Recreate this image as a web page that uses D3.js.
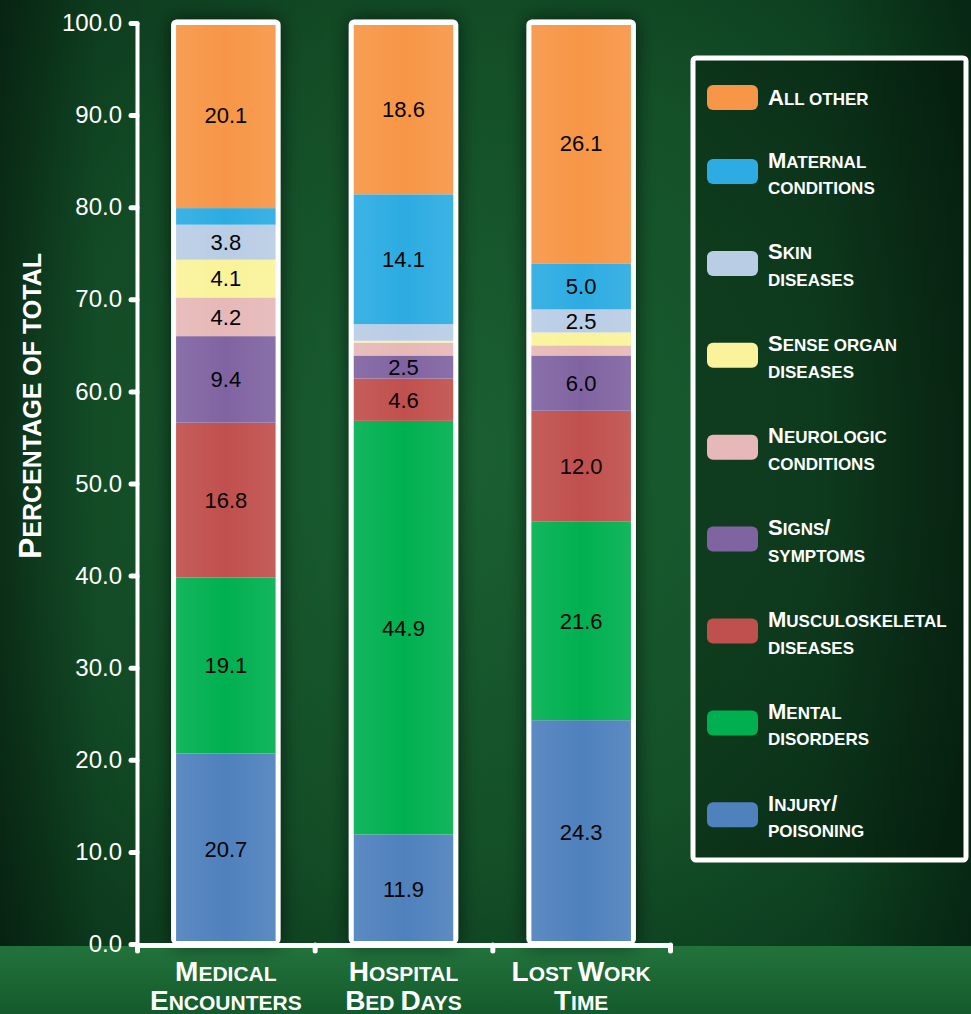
<!DOCTYPE html>
<html>
<head>
<meta charset="utf-8">
<script src="https://cdn.jsdelivr.net/npm/d3@7/dist/d3.min.js"></script>
<style>
  html, body { margin: 0; padding: 0; background: #07331a; }
  svg { display: block; }
  .sc { font-family: "Liberation Sans", Arial, sans-serif; font-weight: bold; fill: #fff; white-space: pre; }
</style>
</head>
<body>
<svg class="chart"></svg>
<script>
'use strict';

var WIDTH = 971;
var HEIGHT = 1014;

// categories and labels
var categories = ["Medical Encounters", "Hospital Bed Days", "Lost Work Time"];
var categoryLines = [["Medical", "Encounters"], ["Hospital", "Bed Days"], ["Lost Work", "Time"]];

// series values, bottom of stack to top
var injury = [20.7, 11.9, 24.3];
var mental = [19.1, 44.9, 21.6];
var musculoskeletal = [16.8, 4.6, 12.0];
var signs = [9.4, 2.5, 6.0];
var neurologic = [4.2, 1.4, 1.1];
var senseOrgan = [4.1, 0.2, 1.4];
var skin = [3.8, 1.8, 2.5];
var maternal = [1.8, 14.1, 5.0];
var allOther = [20.1, 18.6, 26.1];

var seriesKeys = ["injury", "mental", "musculoskeletal", "signs", "neurologic", "senseOrgan", "skin", "maternal", "allOther"];
var seriesValues = [injury, mental, musculoskeletal, signs, neurologic, senseOrgan, skin, maternal, allOther];
var seriesLabels = [
    ["Injury/", "poisoning"],
    ["Mental", "disorders"],
    ["Musculoskeletal", "diseases"],
    ["Signs/", "symptoms"],
    ["Neurologic", "conditions"],
    ["Sense organ", "diseases"],
    ["Skin", "diseases"],
    ["Maternal", "conditions"],
    ["All other"]
];
var seriesColors = ["#4f81bd", "#00b050", "#c0504d", "#8064a2", "#e6b9b8", "#faf39b", "#b9cde5", "#2cace2", "#f79646"];

var yTicks = [0, 10, 20, 30, 40, 50, 60, 70, 80, 90, 100];

var chart = d3.select(".chart").attr("width", WIDTH).attr("height", HEIGHT);
var defs = chart.append("defs");

renderBackground(chart, defs);

// scales
var yScale = d3.scaleLinear().domain([0, 100]).range([944, 23]);
var xScale = d3.scaleBand().domain(categories).range([137, 670]).paddingInner(0.44).paddingOuter(0.22);
var xEdges = d3.scaleLinear().domain([0, categories.length]).range([137, 670]);

// stack data
var table = categories.map(function (c, i) {
    var row = { category: c };
    seriesKeys.forEach(function (k, j) { row[k] = seriesValues[j][i]; });
    return row;
});
var stacked = d3.stack().keys(seriesKeys)(table);

renderBars(chart, defs, stacked, xScale, yScale);
renderAxes(chart, xScale, xEdges, yScale);
renderLegend(chart);

/**
 * Write a string as small caps: capitals at the big size, lower case
 * letters upper-cased at the small size
 */
function smallCaps(textSel, str, big, small) {
    var runs = [];
    str.split("").forEach(function (ch) {
        var size = (ch !== ch.toUpperCase() || ch === " ") ? small : big;
        var last = runs[runs.length - 1];
        if (last && last.size === size) last.text += ch;
        else runs.push({ size: size, text: ch });
    });
    textSel.selectAll("tspan")
        .data(runs)
        .enter()
        .append("tspan")
        .attr("font-size", function (d) { return d.size; })
        .text(function (d) { return d.text.toUpperCase(); });
}

function renderBackground(chart, defs) {
    var glow = defs.append("radialGradient").attr("id", "bgGlow")
        .attr("cx", "0.45").attr("cy", "0.45").attr("r", "0.75");
    glow.append("stop").attr("offset", "0%").attr("stop-color", "#1c6534");
    glow.append("stop").attr("offset", "55%").attr("stop-color", "#145229");
    glow.append("stop").attr("offset", "100%").attr("stop-color", "#073017");

    chart.append("rect").attr("width", WIDTH).attr("height", HEIGHT).attr("fill", "url(#bgGlow)");

    // darker haze at the left and right edges
    var vig = defs.append("linearGradient").attr("id", "vig").attr("x1", 0).attr("x2", 1);
    vig.append("stop").attr("offset", "0%").attr("stop-color", "#000").attr("stop-opacity", 0.4);
    vig.append("stop").attr("offset", "10%").attr("stop-color", "#000").attr("stop-opacity", 0.1);
    vig.append("stop").attr("offset", "85%").attr("stop-color", "#000").attr("stop-opacity", 0);
    vig.append("stop").attr("offset", "100%").attr("stop-color", "#000").attr("stop-opacity", 0.25);
    chart.append("rect").attr("width", WIDTH).attr("height", HEIGHT).attr("fill", "url(#vig)");

    // lighter strip under the axis
    var strip = defs.append("linearGradient").attr("id", "bottomStrip").attr("x1", 0).attr("x2", 0).attr("y1", 0).attr("y2", 1);
    strip.append("stop").attr("offset", "0%").attr("stop-color", "#22733b");
    strip.append("stop").attr("offset", "100%").attr("stop-color", "#145a2c");
    chart.append("rect").attr("x", 0).attr("y", 946).attr("width", WIDTH).attr("height", HEIGHT - 946)
        .attr("fill", "url(#bottomStrip)");
}

function renderBars(chart, defs, stacked, xScale, yScale) {
    var shadow = defs.append("filter").attr("id", "barShadow")
        .attr("x", "-40%").attr("y", "-10%").attr("width", "180%").attr("height", "120%");
    shadow.append("feGaussianBlur").attr("in", "SourceAlpha").attr("stdDeviation", 10);
    shadow.append("feComponentTransfer").append("feFuncA").attr("type", "linear").attr("slope", 0.6);
    var merge = shadow.append("feMerge");
    merge.append("feMergeNode");
    merge.append("feMergeNode").attr("in", "SourceGraphic");

    var shine = defs.append("linearGradient").attr("id", "shine").attr("x1", 0).attr("x2", 1);
    shine.append("stop").attr("offset", "0%").attr("stop-color", "#fff").attr("stop-opacity", 0.08);
    shine.append("stop").attr("offset", "50%").attr("stop-color", "#fff").attr("stop-opacity", 0);
    shine.append("stop").attr("offset", "100%").attr("stop-color", "#fff").attr("stop-opacity", 0.08);

    var bw = xScale.bandwidth();

    // white frames with shadow
    chart.append("g").selectAll("rect")
        .data(categories)
        .enter()
        .append("rect")
        .attr("x", function (d) { return xScale(d) - 2.5; })
        .attr("y", yScale(100) - 1)
        .attr("width", bw + 5)
        .attr("height", yScale(0) - yScale(100) - 1)
        .attr("rx", 3)
        .attr("fill", "#fff")
        .attr("stroke", "#fff")
        .attr("stroke-width", 5)
        .attr("filter", "url(#barShadow)");

    var layer = chart.append("g").selectAll("g")
        .data(stacked)
        .enter()
        .append("g")
        .attr("fill", function (d, i) { return seriesColors[i]; });

    layer.selectAll("rect")
        .data(function (d) { return d; })
        .enter()
        .append("rect")
        .attr("x", function (d) { return xScale(d.data.category); })
        .attr("y", function (d) { return Math.max(yScale(d[1]), yScale(100) + 2); })
        .attr("width", bw)
        .attr("height", function (d) {
            return Math.min(yScale(d[0]), yScale(0) - 3) - Math.max(yScale(d[1]), yScale(100) + 2);
        });

    chart.append("g").selectAll("rect")
        .data(categories)
        .enter()
        .append("rect")
        .attr("x", function (d) { return xScale(d); })
        .attr("y", yScale(100) + 2)
        .attr("width", bw)
        .attr("height", yScale(0) - yScale(100) - 5)
        .attr("fill", "url(#shine)");

    // value labels
    layer.selectAll("text")
        .data(function (d) { return d.filter(function (p) { return p[1] - p[0] >= 2.5; }); })
        .enter()
        .append("text")
        .attr("x", function (d) { return xScale(d.data.category) + bw / 2; })
        .attr("y", function (d) { return yScale((d[0] + d[1]) / 2); })
        .attr("dy", "0.36em")
        .attr("text-anchor", "middle")
        .attr("font-family", "Liberation Sans, Arial, sans-serif")
        .attr("font-size", 22)
        .attr("fill", "#000")
        .text(function (d) { return d3.format(".1f")(d[1] - d[0]); });
}

function renderAxes(chart, xScale, xEdges, yScale) {
    var yAxis = d3.axisLeft(yScale)
        .tickValues(yTicks)
        .tickFormat(d3.format(".1f"))
        .tickSize(6)
        .tickSizeOuter(0)
        .tickPadding(9);

    var gy = chart.append("g")
        .attr("class", "y axis")
        .attr("transform", "translate(137,0)")
        .call(yAxis);
    gy.select(".domain").attr("stroke", "#fff").attr("stroke-width", 4).attr("stroke-linecap", "round");
    gy.selectAll(".tick line").attr("stroke", "#fff").attr("stroke-width", 5).attr("stroke-linecap", "round");
    gy.selectAll(".tick text")
        .attr("fill", "#fff")
        .attr("font-family", "Liberation Sans, Arial, sans-serif")
        .attr("font-size", 24);

    var xAxis = d3.axisBottom(xEdges)
        .tickValues(d3.range(0, categories.length + 1))
        .tickFormat("")
        .tickSize(6)
        .tickSizeOuter(0);

    var gx = chart.append("g")
        .attr("class", "x axis")
        .attr("transform", "translate(0,945)")
        .call(xAxis);
    gx.select(".domain").attr("stroke", "#fff").attr("stroke-width", 5).attr("stroke-linecap", "round");
    gx.selectAll(".tick line").attr("stroke", "#fff").attr("stroke-width", 5).attr("stroke-linecap", "round");

    // category labels, two lines each
    categories.forEach(function (c, i) {
        categoryLines[i].forEach(function (line, j) {
            var t = chart.append("text")
                .attr("class", "sc")
                .attr("text-anchor", "middle")
                .attr("x", xScale(c) + xScale.bandwidth() / 2)
                .attr("y", 981 + j * 29);
            smallCaps(t, line, 28, 21);
        });
    });

    // y axis title
    var title = chart.append("text")
        .attr("class", "sc")
        .attr("text-anchor", "middle")
        .attr("transform", "translate(41,406) rotate(-90)");
    smallCaps(title, "Percentage of total", 32, 25);
}

function renderLegend(chart) {
    var g = chart.append("g").attr("class", "legend");
    g.append("rect")
        .attr("x", 693).attr("y", 58)
        .attr("width", 273).attr("height", 802)
        .attr("rx", 3)
        .attr("fill", "#000").attr("fill-opacity", 0.3)
        .attr("stroke", "#fff").attr("stroke-width", 5);

    var order = d3.range(seriesKeys.length).reverse();
    var rowY = function (r) { return r === 0 ? 97.5 : 171.5 + (r - 1) * 91.9; };

    order.forEach(function (s, r) {
        var item = g.append("g")
            .attr("class", "item")
            .attr("transform", "translate(0," + rowY(r) + ")");

        item.append("rect")
            .attr("x", 707).attr("y", -12.5)
            .attr("width", 51).attr("height", 25)
            .attr("rx", 6)
            .attr("fill", seriesColors[s]);

        var lines = seriesLabels[s];
        lines.forEach(function (line, j) {
            var t = item.append("text")
                .attr("class", "sc")
                .attr("x", 768)
                .attr("y", lines.length === 1 ? 7.5 : -4 + j * 26.5);
            smallCaps(t, line, 22, 17);
        });
    });
}
</script>
</body>
</html>
